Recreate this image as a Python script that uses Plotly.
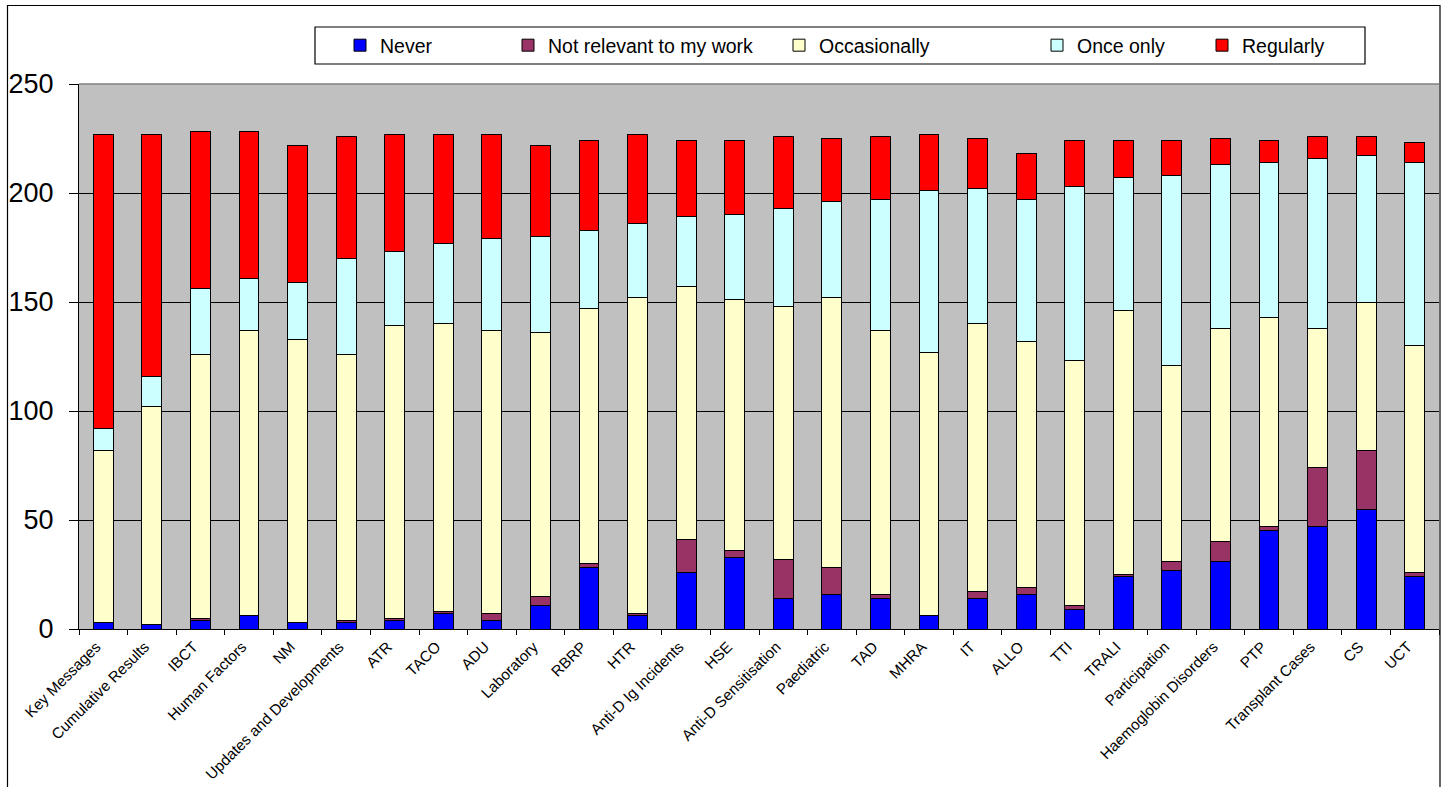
import plotly.graph_objects as go

categories = ["Key Messages", "Cumulative Results", "IBCT", "Human Factors", "NM",
              "Updates and Developments", "ATR", "TACO", "ADU", "Laboratory", "RBRP",
              "HTR", "Anti-D Ig Incidents", "HSE", "Anti-D Sensitisation", "Paediatric",
              "TAD", "MHRA", "IT", "ALLO", "TTI", "TRALI", "Participation",
              "Haemoglobin Disorders", "PTP", "Transplant Cases", "CS", "UCT"]

never = [3, 2, 4, 6, 3, 3, 4, 7, 4, 11, 28, 6, 26, 33, 14, 16, 14, 6, 14, 16, 9, 24, 27, 31, 45, 47, 55, 24]
not_relevant = [0, 0, 1, 0, 0, 1, 1, 1, 3, 4, 2, 1, 15, 3, 18, 12, 2, 0, 3, 3, 2, 1, 4, 9, 2, 27, 27, 2]
occasionally = [79, 100, 121, 131, 130, 122, 134, 132, 130, 121, 117, 145, 116, 115, 116, 124, 121, 121, 123, 113, 112, 121, 90, 98, 96, 64, 68, 104]
once_only = [10, 14, 30, 24, 26, 44, 34, 37, 42, 44, 36, 34, 32, 39, 45, 44, 60, 74, 62, 65, 80, 61, 87, 75, 71, 78, 67, 84]
regularly = [135, 111, 72, 67, 63, 56, 54, 50, 48, 42, 41, 41, 35, 34, 33, 29, 29, 26, 23, 21, 21, 17, 16, 12, 10, 10, 9, 9]

y_ticks = [0, 50, 100, 150, 200, 250]

series = [
    ("Never", never, "#0000FF"),
    ("Not relevant to my work", not_relevant, "#993366"),
    ("Occasionally", occasionally, "#FFFFCC"),
    ("Once only", once_only, "#CCFFFF"),
    ("Regularly", regularly, "#FF0000"),
]

W, H = 1447, 787
ML, MR, MT, MB = 79, 8, 84, 158
PW, PH = W - ML - MR, H - MT - MB


def px_x(p):
    return (p - ML) / PW


def px_y(p):
    return (H - MB - p) / PH


FONT = "Liberation Sans, Arial, sans-serif"

fig = go.Figure()
legend_px = [340, 508, 779, 1037, 1202]
for i, (name, vals, col) in enumerate(series):
    lg = "legend" if i == 0 else f"legend{i+1}"
    fig.add_trace(go.Bar(
        name=name, x=categories, y=vals,
        marker=dict(color=col, line=dict(color="#000000", width=1)),
        legend=lg,
    ))

layout_legends = {}
for i, lx in enumerate(legend_px):
    key = "legend" if i == 0 else f"legend{i+1}"
    layout_legends[key] = dict(
        x=px_x(lx), y=px_y(45.5), xref="paper", yref="paper",
        xanchor="left", yanchor="middle",
        bgcolor="rgba(0,0,0,0)", borderwidth=0,
        font=dict(family=FONT, size=19.5, color="#000000"),
        orientation="h",
    )

fig.update_layout(
    width=W, height=H,
    margin=dict(l=ML, r=MR, t=MT, b=MB, pad=0),
    barmode="stack", bargap=0.59,
    paper_bgcolor="#FFFFFF", plot_bgcolor="#C0C0C0",
    font=dict(family=FONT, color="#000000"),
    showlegend=True,
    **layout_legends,
    xaxis=dict(
        type="category", showline=True, linecolor="#000000", linewidth=1,
        ticks="outside", tickson="boundaries", ticklen=5, tickcolor="#000000",
        tickangle=-45, tickfont=dict(family=FONT, size=15.2, color="#000000"),
        ticklabelshift=-7, ticklabelstandoff=2,
        showgrid=False, automargin=False,
    ),
    yaxis=dict(
        range=[0, 250], tickvals=y_ticks, showline=True, linecolor="#000000",
        linewidth=1, ticks="outside", ticklen=9, tickcolor="#000000",
        tickfont=dict(family=FONT, size=27, color="#000000"),
        showgrid=True, gridcolor="#000000", gridwidth=1, zeroline=False,
        ticklabelstandoff=10, automargin=False,
    ),
    shapes=[
        # plot area top border
        dict(type="line", xref="paper", yref="paper", x0=0, x1=1, y0=1, y1=1,
             line=dict(color="#808080", width=1.5)),
        # outer chart frame
        dict(type="rect", xref="paper", yref="paper",
             x0=px_x(7.5), x1=px_x(1440), y0=px_y(5.5), y1=px_y(800),
             line=dict(color="#000000", width=1.2), fillcolor="rgba(0,0,0,0)",
             layer="above"),
        # legend box
        dict(type="rect", xref="paper", yref="paper",
             x0=px_x(315), x1=px_x(1365), y0=px_y(27), y1=px_y(64),
             line=dict(color="#000000", width=1.2), fillcolor="#FFFFFF",
             layer="below"),
    ],
)

fig.write_html("out.html", config={"displayModeBar": False},
               post_script="document.body.style.margin='0';document.body.style.padding='0';")
